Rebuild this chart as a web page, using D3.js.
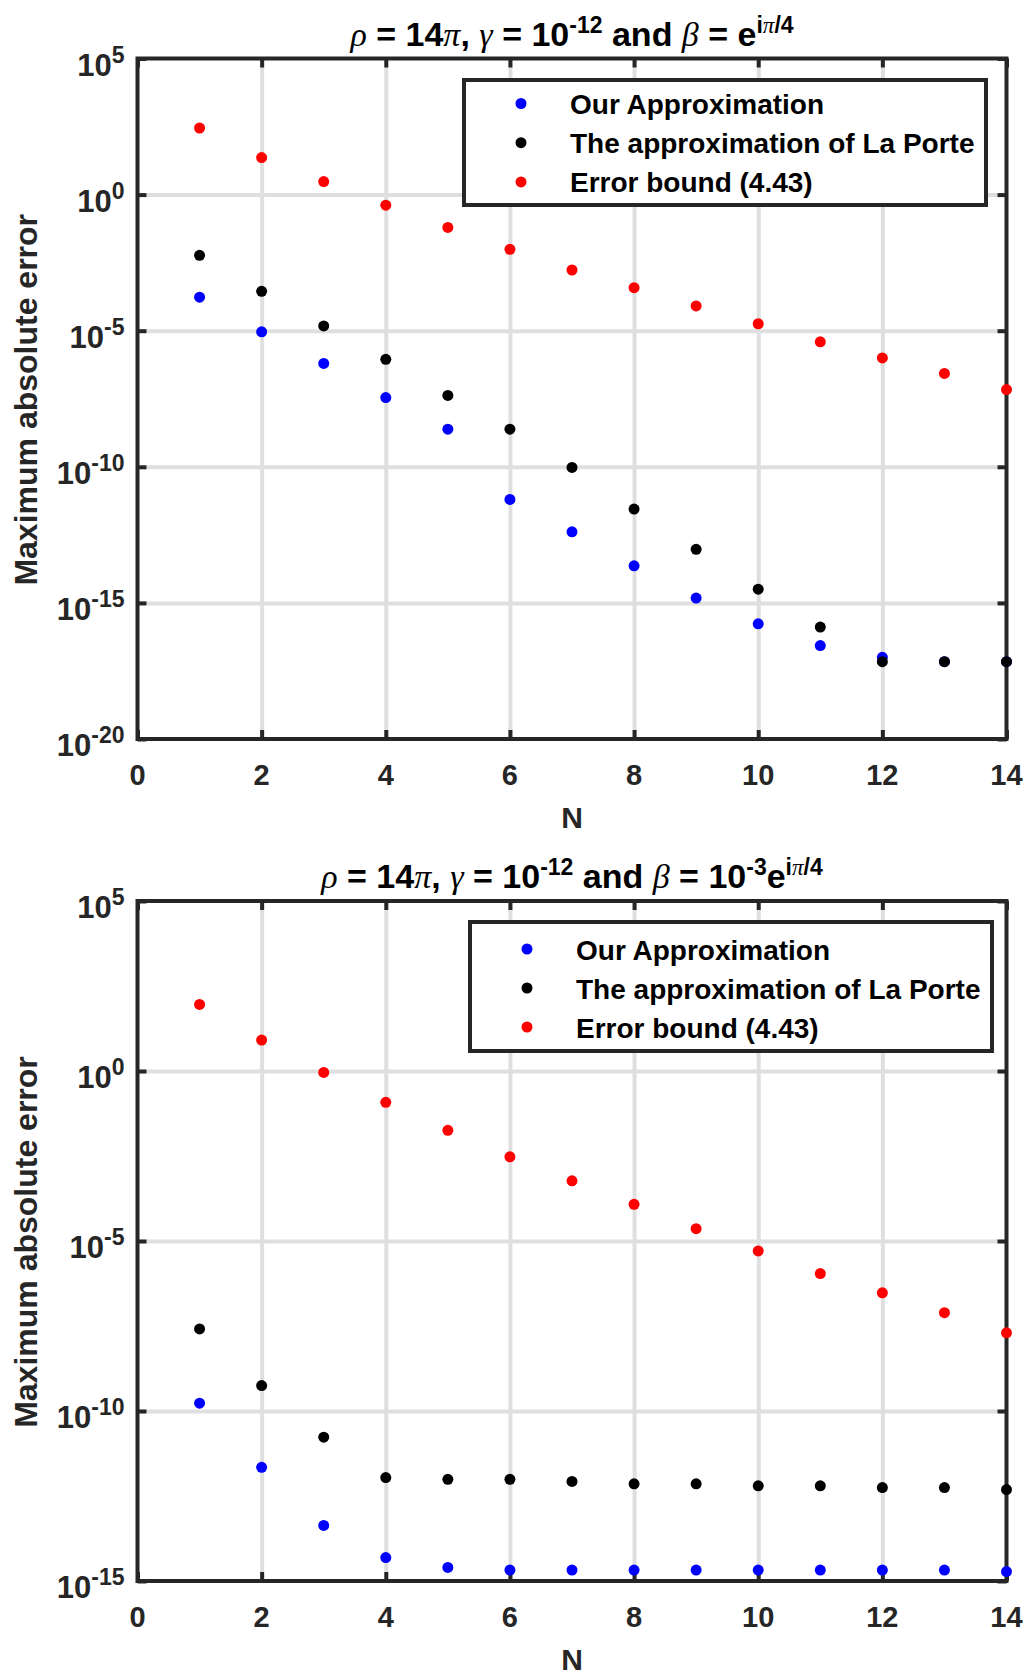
<!DOCTYPE html>
<html>
<head>
<meta charset="utf-8">
<script src="https://cdn.jsdelivr.net/npm/d3@7"></script>
<style>
  html, body { margin: 0; padding: 0; background: #fff; }
  svg { display: block; }
</style>
</head>
<body>
<svg id="fig" width="1026" height="1677"></svg>
<script>
// Polynomial order N
const orders = [1, 2, 3, 4, 5, 6, 7, 8, 9, 10, 11, 12, 13, 14];

// Case beta = e^{i pi/4}
const oursA    = [1.7e-4, 9.1e-6, 6.3e-7, 3.5e-8, 2.4e-9, 6.3e-12, 4.1e-13, 2.3e-14, 1.5e-15, 1.7e-16, 2.7e-17, 1.0e-17, 6.9e-18, 6.9e-18];
const laPorteA = [5.9e-3, 2.8e-4, 1.5e-5, 8.9e-7, 4.2e-8, 2.4e-9, 9.5e-11, 2.8e-12, 9.3e-14, 3.2e-15, 1.3e-16, 6.9e-18, 6.9e-18, 6.9e-18];
const boundA   = [2.8e2, 2.3e1, 3.0e0, 4.1e-1, 6.2e-2, 9.8e-3, 1.7e-3, 3.8e-4, 8.1e-5, 1.8e-5, 3.9e-6, 1.0e-6, 2.7e-7, 6.9e-8];

// Case beta = 10^-3 e^{i pi/4}
const oursB    = [1.7e-10, 2.2e-12, 4.3e-14, 4.9e-15, 2.5e-15, 2.1e-15, 2.1e-15, 2.1e-15, 2.1e-15, 2.1e-15, 2.1e-15, 2.1e-15, 2.1e-15, 1.9e-15];
const laPorteB = [2.6e-8, 5.6e-10, 1.7e-11, 1.1e-12, 9.8e-13, 9.8e-13, 8.5e-13, 7.2e-13, 7.2e-13, 6.3e-13, 6.3e-13, 5.6e-13, 5.6e-13, 4.9e-13];
const boundB   = [9.1e1, 8.1e0, 9.1e-1, 1.2e-1, 1.8e-2, 3.0e-3, 5.9e-4, 1.2e-4, 2.3e-5, 5.1e-6, 1.1e-6, 3.0e-7, 7.8e-8, 2.0e-8];

const seriesNames = ["Our Approximation", "The approximation of La Porte", "Error bound (4.43)"];
const seriesColors = ["#0000ff", "#000000", "#ff0000"];

const xTicks = [0, 2, 4, 6, 8, 10, 12, 14];
const yTicksA = [1e5, 1e0, 1e-5, 1e-10, 1e-15, 1e-20];
const yTicksB = [1e5, 1e0, 1e-5, 1e-10, 1e-15];

// Title pieces: g = greek (serif italic), s = superscript
const titleA = [
  {t: "\u03C1", g: 1}, {t: " = 14"}, {t: "\u03C0", g: 1}, {t: ", "}, {t: "\u03B3", g: 1},
  {t: " = 10"}, {t: "-12", s: 1}, {t: " and "}, {t: "\u03B2", g: 1}, {t: " = e"},
  {t: "i", s: 1}, {t: "\u03C0", s: 1, g: 1}, {t: "/4", s: 1}
];
const titleB = [
  {t: "\u03C1", g: 1}, {t: " = 14"}, {t: "\u03C0", g: 1}, {t: ", "}, {t: "\u03B3", g: 1},
  {t: " = 10"}, {t: "-12", s: 1}, {t: " and "}, {t: "\u03B2", g: 1}, {t: " = 10"},
  {t: "-3", s: 1}, {t: "e"}, {t: "i", s: 1}, {t: "\u03C0", s: 1, g: 1}, {t: "/4", s: 1}
];

const panels = [
  { top: 58.5, bottom: 739, yDomain: [1e-20, 1e5], yTicks: yTicksA, title: titleA,
    data: [oursA, laPorteA, boundA], legend: {x: 464, y: 80, w: 522, h: 125, row0: 23.5, step: 39.2} },
  { top: 901, bottom: 1581, yDomain: [1e-15, 1e5], yTicks: yTicksB, title: titleB,
    data: [oursB, laPorteB, boundB], legend: {x: 470, y: 922, w: 522, h: 129, row0: 27, step: 39} }
];

const left = 137.5, right = 1006.5;
const axisColor = "#262626";
const gridColor = "#dfdfdf";
const sans = "'Liberation Sans', Arial, Helvetica, sans-serif";
const serif = "'Liberation Serif', 'Times New Roman', serif";

const svg = d3.select("#fig");

function exponentOf(v) { return Math.round(Math.log10(v)); }

panels.forEach(p => {
  const x = d3.scaleLinear().domain([0, 14]).range([left, right]);
  const y = d3.scaleLog().domain(p.yDomain).range([p.bottom, p.top]);
  const w = right - left, h = p.bottom - p.top;
  const g = svg.append("g");

  // grid
  g.append("g")
    .attr("transform", `translate(0,${p.bottom})`)
    .call(d3.axisBottom(x).tickValues(xTicks.slice(1, -1)).tickSize(-h).tickFormat(""))
    .call(s => s.select(".domain").remove())
    .call(s => s.selectAll("line").attr("stroke", gridColor).attr("stroke-width", 4));
  g.append("g")
    .attr("transform", `translate(${left},0)`)
    .call(d3.axisLeft(y).tickValues(p.yTicks.slice(1, -1)).tickSize(-w).tickFormat(""))
    .call(s => s.select(".domain").remove())
    .call(s => s.selectAll("line").attr("stroke", gridColor).attr("stroke-width", 4));

  // inward ticks on all four sides
  const tickLen = 9;
  const tickStyle = s => {
    s.select(".domain").remove();
    s.selectAll("line").attr("stroke", axisColor).attr("stroke-width", 4);
  };
  g.append("g").attr("transform", `translate(0,${p.bottom})`)
    .call(d3.axisBottom(x).tickValues(xTicks).tickSize(-tickLen).tickFormat("")).call(tickStyle);
  g.append("g").attr("transform", `translate(0,${p.top})`)
    .call(d3.axisTop(x).tickValues(xTicks).tickSize(-tickLen).tickFormat("")).call(tickStyle);
  g.append("g").attr("transform", `translate(${left},0)`)
    .call(d3.axisLeft(y).tickValues(p.yTicks).tickSize(-tickLen).tickFormat("")).call(tickStyle);
  g.append("g").attr("transform", `translate(${right},0)`)
    .call(d3.axisRight(y).tickValues(p.yTicks).tickSize(-tickLen).tickFormat("")).call(tickStyle);

  // frame
  g.append("rect")
    .attr("x", left).attr("y", p.top).attr("width", w).attr("height", h)
    .attr("fill", "none").attr("stroke", axisColor).attr("stroke-width", 4);

  // x tick labels
  g.append("g").selectAll("text").data(xTicks).join("text")
    .attr("x", d => x(d)).attr("y", p.bottom + 46)
    .attr("text-anchor", "middle")
    .attr("font-family", sans).attr("font-weight", "bold").attr("font-size", 29)
    .attr("fill", axisColor)
    .text(d => d);

  // y tick labels as 10^k
  const yl = g.append("g").selectAll("text").data(p.yTicks).join("text")
    .attr("x", left - 13).attr("y", d => y(d) + 17)
    .attr("text-anchor", "end")
    .attr("font-family", sans).attr("font-weight", "bold").attr("font-size", 31)
    .attr("fill", axisColor);
  yl.append("tspan").text("10");
  yl.append("tspan").attr("dy", -13).attr("font-size", 23).text(d => exponentOf(d));

  // axis titles
  g.append("text")
    .attr("x", (left + right) / 2).attr("y", p.bottom + 89)
    .attr("text-anchor", "middle")
    .attr("font-family", sans).attr("font-weight", "bold").attr("font-size", 30)
    .attr("fill", axisColor).text("N");
  g.append("text")
    .attr("transform", `translate(37,${(p.top + p.bottom) / 2 + 1}) rotate(-90)`)
    .attr("text-anchor", "middle")
    .attr("font-family", sans).attr("font-weight", "bold").attr("font-size", 32)
    .attr("fill", axisColor).text("Maximum absolute error");

  // panel title
  const title = g.append("text")
    .attr("x", (left + right) / 2).attr("y", p.top - 13)
    .attr("text-anchor", "middle")
    .attr("font-family", sans).attr("font-weight", "bold").attr("font-size", 34)
    .attr("fill", "#000");
  let raised = false;
  p.title.forEach(part => {
    const ts = title.append("tspan").text(part.t);
    if (part.s && !raised) { ts.attr("dy", -13); raised = true; }
    else if (!part.s && raised) { ts.attr("dy", 13); raised = false; }
    if (part.s) ts.attr("font-size", 23);
    if (part.g) ts.attr("font-family", serif).attr("font-style", "italic").attr("font-weight", "normal");
    if (part.g && !part.s) ts.attr("font-size", 34);
  });

  // markers
  p.data.forEach((vals, si) => {
    g.append("g").selectAll("circle").data(vals).join("circle")
      .attr("cx", (d, i) => x(orders[i]))
      .attr("cy", d => y(d))
      .attr("r", 5.5)
      .attr("fill", seriesColors[si]);
  });

  // legend
  const L = p.legend;
  const lg = g.append("g").attr("transform", `translate(${L.x},${L.y})`);
  lg.append("rect").attr("width", L.w).attr("height", L.h)
    .attr("fill", "#fff").attr("stroke", axisColor).attr("stroke-width", 4);
  seriesNames.forEach((name, i) => {
    const cy = L.row0 + i * L.step;
    lg.append("circle").attr("cx", 57).attr("cy", cy).attr("r", 5.5).attr("fill", seriesColors[i]);
    lg.append("text").attr("x", 106).attr("y", cy + 10.5)
      .attr("font-family", sans).attr("font-weight", "bold").attr("font-size", 28)
      .attr("fill", "#000").text(name);
  });
});
</script>
</body>
</html>
